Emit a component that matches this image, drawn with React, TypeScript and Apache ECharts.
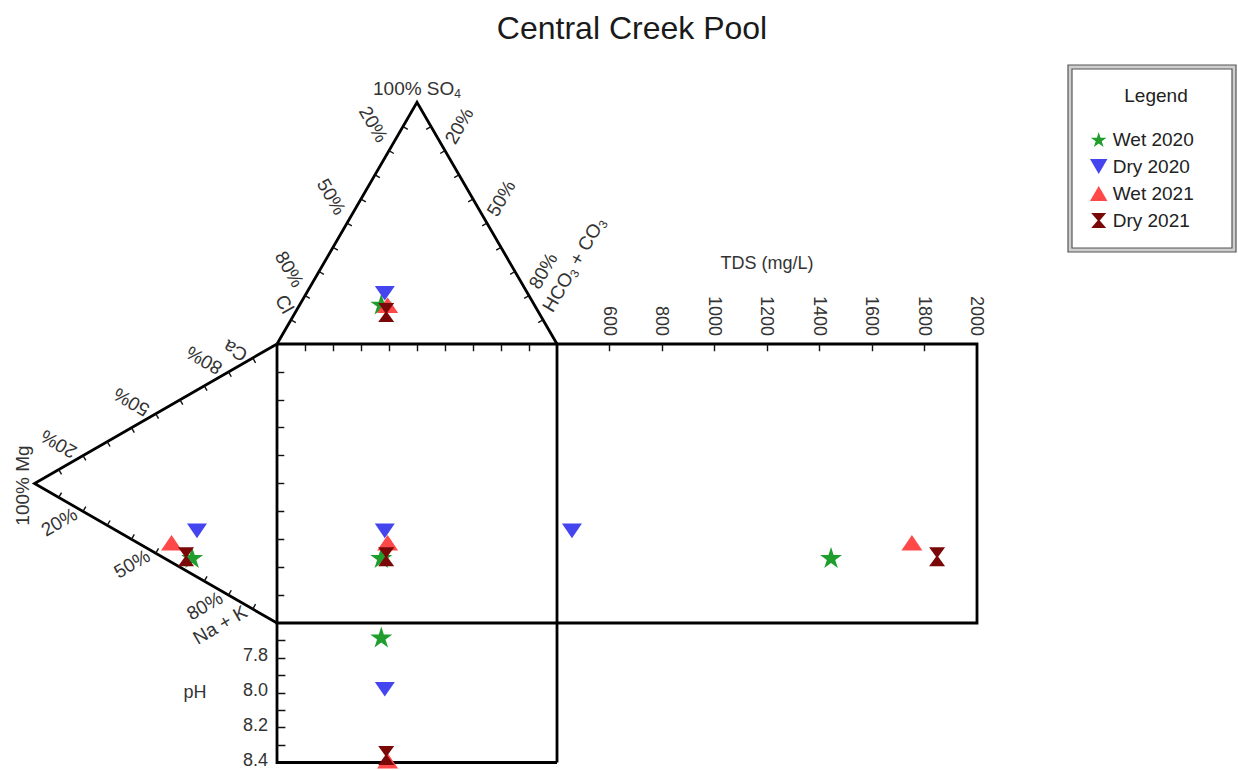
import React, { useEffect, useRef } from "react";
import * as echarts from "echarts";

// ---- Data ----
const SAMPLE_NAMES = ["Wet 2020", "Dry 2020", "Wet 2021", "Dry 2021"];
// anions, % of meq
const CL = [54.5, 51, 52.5, 54.5];
const SO4 = [16.5, 21, 16, 13];
const HCO3 = [29, 28, 31.5, 32.5];
// cations, % of meq
const CA = [6, 16.5, 7, 5];
const MG = [35, 33, 43.5, 37.5];
const NAK = [59, 50.5, 49.5, 57.5];
// TDS (mg/L) and pH
const TDS = [1444, 457, 1752, 1848];
const PH = [7.68, 7.98, 8.39, 8.36];

// ---- Axes / ticks ----
const PCT_TICKS = [10, 20, 30, 40, 50, 60, 70, 80, 90];
const PCT_LABELS = [20, 50, 80];
const TDS_MIN = 400;
const TDS_MAX = 2000;
const TDS_TICKS = [600, 800, 1000, 1200, 1400, 1600, 1800];
const TDS_LABELS = [600, 800, 1000, 1200, 1400, 1600, 1800, 2000];
const PH_MIN = 7.6;
const PH_MAX = 8.4;
const PH_TICKS = [7.7, 7.8, 7.9, 8.0, 8.1, 8.2, 8.3];
const PH_LABELS = [7.8, 8.0, 8.2, 8.4];

const COLORS = ["#1f9e2e", "#4545f0", "#ff4848", "#7a0808"];
const SYMBOLS = [
  "path://M50 0L61.2 34.5L97.6 34.5L68.2 55.9L79.4 90.5L50 69.1L20.6 90.5L31.8 55.9L2.4 34.5L38.8 34.5Z",
  "path://M0 0L100 0L50 86Z",
  "path://M50 0L100 86L0 86Z",
  "path://M0 0L100 0L57 50L100 100L0 100L43 50Z",
];
const SIZES = [
  [22, 22],
  [20, 17],
  [21, 18],
  [16, 19],
];

const FONT = "'Liberation Sans', Arial, Helvetica, sans-serif";
const FS = 19;
const S = Math.sqrt(3) / 2;

// diagram coordinates: square = [0,100] x [0,100], v grows downward
const anionX = (i: number) => HCO3[i] + SO4[i] / 2;
const cationY = (i: number) => NAK[i] + MG[i] / 2;
const tdsX = (t: number) => 100 + ((t - TDS_MIN) / (TDS_MAX - TDS_MIN)) * 150;
const phY = (p: number) => 100 + ((p - PH_MIN) / (PH_MAX - PH_MIN)) * 50;

const topLeft = (p: number) => [50 * (1 - p / 100), -100 * S * (1 - p / 100)];
const topRight = (p: number) => [50 + (50 * p) / 100, -100 * S * (1 - p / 100)];
const leftUpper = (p: number) => [-100 * S * (1 - p / 100), 50 * (1 - p / 100)];
const leftLower = (p: number) => [-100 * S * (1 - p / 100), 50 + (50 * p) / 100];

function samplePoints(i: number) {
  return [
    [anionX(i), -SO4[i] * S],
    [-MG[i] * S, cationY(i)],
    [anionX(i), cationY(i)],
    [tdsX(TDS[i]), cationY(i)],
    [anionX(i), phY(PH[i])],
  ];
}

const FRAME = [
  [[0, 0], [50, -100 * S], [100, 0]],
  [[0, 0], [-100 * S, 50], [0, 100]],
  [[0, 0], [250, 0], [250, 100], [0, 100], [0, 0]],
  [[100, 0], [100, 150]],
  [[0, 100], [0, 150], [100, 150]],
];

function tickSegments() {
  const segs: number[][][] = [];
  const tl = 2.0;
  const sq = 2.6;
  PCT_TICKS.forEach((p) => {
    const a = topLeft(p);
    segs.push([a, [a[0] + tl * S, a[1] + tl * 0.5]]);
    const b = topRight(p);
    segs.push([b, [b[0] - tl * S, b[1] + tl * 0.5]]);
    const c = leftUpper(p);
    segs.push([c, [c[0] + tl * 0.5, c[1] + tl * S]]);
    const d = leftLower(p);
    segs.push([d, [d[0] + tl * 0.5, d[1] - tl * S]]);
    segs.push([[p, 0], [p, sq]]);
    segs.push([[0, p], [sq, p]]);
  });
  TDS_TICKS.forEach((t) => segs.push([[tdsX(t), 0], [tdsX(t), sq]]));
  PH_TICKS.forEach((p) => segs.push([[0, phY(p)], [3, phY(p)]]));
  return segs;
}

function txt(
  pos: number[],
  text: string,
  o: { rot?: number; align?: string; va?: string; size?: number; color?: string; rich?: any } = {}
) {
  const align = o.align || "center";
  const va = o.va || "middle";
  return {
    type: "text",
    x: pos[0],
    y: pos[1],
    rotation: o.rot || 0,
    silent: true,
    z: 10,
    style: {
      text,
      fill: o.color || "#333",
      fontSize: o.size || FS,
      fontFamily: FONT,
      align,
      verticalAlign: va,
      textAlign: align,
      textVerticalAlign: va,
      rich: o.rich,
    },
  };
}

export default function App() {
  const ref = useRef<HTMLDivElement>(null);

  useEffect(() => {
    const el = ref.current as HTMLDivElement;
    const chart = echarts.init(el, null, { renderer: "svg" });

    const series: any[] = [
      {
        type: "lines",
        coordinateSystem: "cartesian2d",
        polyline: true,
        silent: true,
        z: 2,
        lineStyle: { color: "#000", width: 2.8, opacity: 1 },
        data: FRAME.map((c) => ({ coords: c })),
      },
      {
        type: "lines",
        coordinateSystem: "cartesian2d",
        silent: true,
        z: 2,
        lineStyle: { color: "#111", width: 1.4, opacity: 1 },
        data: tickSegments().map((c) => ({ coords: c })),
      },
      ...SAMPLE_NAMES.map((name, i) => ({
        type: "scatter",
        name,
        symbol: SYMBOLS[i],
        symbolSize: SIZES[i],
        symbolKeepAspect: true,
        silent: true,
        z: 5 + i,
        itemStyle: { color: COLORS[i], opacity: 1 },
        data: samplePoints(i),
      })),
    ];

    chart.setOption({
      animation: false,
      grid: { left: 11, width: 966, top: 37.1, height: 725.4 },
      xAxis: { type: "value", min: -95, max: 250, show: false },
      yAxis: { type: "value", min: -110, max: 150, inverse: true, show: false },
      title: {
        text: "Central Creek Pool",
        left: 627,
        top: 7,
        textAlign: "center",
        textStyle: { fontSize: 32, fontWeight: "normal", color: "#1a1a1a", fontFamily: FONT },
      },
      legend: {
        data: SAMPLE_NAMES,
        orient: "vertical",
        left: 1085,
        top: 125,
        itemWidth: 18,
        itemHeight: 15,
        itemGap: 8,
        selectedMode: false,
        textStyle: { fontSize: FS, color: "#222", fontFamily: FONT },
      },
      series,
    });

    const px = (p: number[]) => chart.convertToPixel({ gridIndex: 0 }, p) as number[];
    const add = (p: number[], dx: number, dy: number) => {
      const q = px(p);
      return [q[0] + dx, q[1] + dy];
    };

    const subRich = {
      n: { fontSize: FS, fontFamily: FONT, lineHeight: 21, verticalAlign: "top", color: "#333" },
      s: { fontSize: 12, fontFamily: FONT, lineHeight: 14, padding: [9, 0, 0, 0], verticalAlign: "top", color: "#333" },
    };

    const g: any[] = [];
    PCT_LABELS.forEach((p) => {
      g.push(txt(add(topLeft(p), -6, -10), `${p}%`, { rot: -Math.PI / 3, align: "right" }));
      g.push(txt(add(topRight(p), 4.5, -8.5), `${p}%`, { rot: Math.PI / 3, align: "left" }));
      g.push(txt(add(leftUpper(p), -8, -2), `${p}%`, { rot: (5 * Math.PI) / 6, align: "left" }));
      g.push(txt(add(leftLower(p), -7.4, 1), `${p}%`, { rot: Math.PI / 6, align: "right" }));
    });
    g.push(txt(add(topLeft(90), -2, -8), "Cl", { rot: -Math.PI / 3, align: "right" }));
    g.push(
      txt(add(topRight(90), 5, -9), "{n|HCO}{s|3}{n| + CO}{s|3}", {
        rot: Math.PI / 3,
        align: "left",
        rich: subRich,
      })
    );
    g.push(txt(add(leftUpper(90), -7, -1), "Ca", { rot: (5 * Math.PI) / 6, align: "left" }));
    g.push(txt(add(leftLower(90), -7.4, 1), "Na + K", { rot: Math.PI / 6, align: "right" }));
    g.push(txt(add([-100 * S, 50], -12, 2), "100% Mg", { rot: Math.PI / 2 }));
    g.push(txt(add([50, -100 * S], 0, -13), "{n|100% SO}{s|4}", { rich: subRich }));

    TDS_LABELS.forEach((t) => {
      g.push(txt(add([tdsX(t), 0], 0, -8), String(t), { rot: -Math.PI / 2, align: "right", size: 18 }));
    });
    g.push(txt(add([tdsX((TDS_MIN + TDS_MAX) / 2), 0], 0, -81), "TDS (mg/L)", { size: 18 }));

    PH_LABELS.forEach((p) => {
      g.push(txt(add([0, phY(p)], -9, -2.5), p.toFixed(1), { align: "right", size: 18 }));
    });
    g.push(txt(add([0, phY(8.0)], -82, -1), "pH", { size: 18 }));

    // legend frame
    g.push({
      type: "rect",
      silent: true,
      z: 0,
      shape: { x: 1068, y: 65, width: 168, height: 187 },
      style: { fill: "#cfcfcf", stroke: "#555", lineWidth: 1.2 },
    });
    g.push({
      type: "rect",
      silent: true,
      z: 1,
      shape: { x: 1072, y: 69, width: 160, height: 179 },
      style: { fill: "#fff", stroke: "#555", lineWidth: 1.2 },
    });
    g.push(txt([1156, 95], "Legend", { color: "#222" }));

    chart.setOption({ graphic: g });

    return () => chart.dispose();
  }, []);

  return <div ref={ref} style={{ position: "absolute", left: 0, top: 0, width: 1238, height: 770 }} />;
}
